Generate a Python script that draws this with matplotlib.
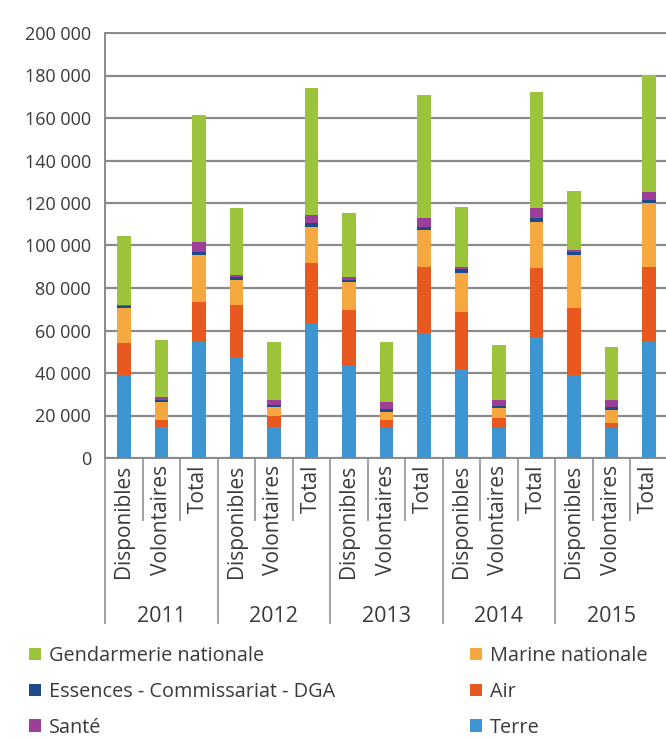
import numpy as np
import matplotlib
matplotlib.use("Agg")
import matplotlib.pyplot as plt
from matplotlib.patches import Patch
from matplotlib.ticker import FuncFormatter
import matplotlib.transforms as mtransforms

plt.rcParams["font.family"] = ["Open Sans", "DejaVu Sans"]

years = ["2011", "2012", "2013", "2014", "2015"]
kinds = ["Disponibles", "Volontaires", "Total"]

# one value per bar: 2011 Disp, Vol, Total, 2012 Disp, ...
terre = [39000, 14600, 54600, 47000, 14600, 63500, 43800, 14000, 58800,
         41400, 14000, 57000, 39000, 14000, 54600]
air = [15000, 3400, 18800, 25000, 5400, 28200, 25800, 4000, 31200,
       27300, 4800, 32400, 31600, 2500, 35400]
marine = [16500, 8500, 22100, 11800, 4000, 17000, 13200, 3600, 17300,
          18300, 4700, 21600, 24900, 6100, 30000]
essences = [1000, 700, 1500, 1200, 800, 1700, 1200, 1500, 1600,
            1800, 1200, 1800, 1400, 1500, 1500]
sante = [500, 1300, 4600, 1000, 2500, 4000, 1000, 3300, 4000,
         1200, 2600, 4800, 1000, 3200, 3700]
gendarmerie = [32500, 27000, 59800, 31600, 27300, 59600, 30300, 28200, 57900,
               28000, 25900, 54600, 27700, 24900, 55000]

series = [
    ("Terre", terre, "#3d96d2"),
    ("Air", air, "#e8581f"),
    ("Marine nationale", marine, "#f5a83f"),
    ("Essences - Commissariat - DGA", essences, "#1d4a8a"),
    ("Santé", sante, "#9b3f98"),
    ("Gendarmerie nationale", gendarmerie, "#9cc43a"),
]

txt = "#3a3a3a"
grid_c = "#8a8a8a"

fig = plt.figure(figsize=(6.66, 7.4), dpi=100)
ax = fig.add_axes([105 / 666, 282 / 740, 562.5 / 666, 425 / 740])

x = np.arange(len(terre))
bottom = np.zeros(len(x))
for name, vals, col in series:
    ax.bar(x, vals, width=0.36, bottom=bottom, color=col, zorder=3)
    bottom += np.array(vals)

ax.set_xlim(-0.5, len(x) - 0.5)
ax.set_ylim(0, 200000)
ax.set_yticks(np.arange(0, 200001, 20000))
ax.yaxis.set_major_formatter(FuncFormatter(lambda v, p: f"{int(v):,}".replace(",", " ")))
ax.tick_params(axis="y", length=0, pad=10, labelsize=13, labelcolor=txt)
ax.set_xticks([])
ax.grid(axis="y", color=grid_c, linewidth=1.6, zorder=0)
for s in ["top", "left", "bottom"]:
    ax.spines[s].set_color(grid_c)
    ax.spines[s].set_linewidth(1.4)
ax.spines["right"].set_visible(False)

# multi-level category axis
trans = mtransforms.blended_transform_factory(ax.transData, ax.transAxes)
for i in range(len(x)):
    ax.annotate(kinds[i % 3], xy=(i, 0), xycoords=trans, xytext=(0, -5),
                textcoords="offset points", rotation=90, ha="center", va="top",
                fontsize=15, color=txt, annotation_clip=False)
    edge = i + 0.5
    if i % 3 == 2:
        ax.plot([edge, edge], [0, -0.388], transform=trans, color="#a0a0a0",
                lw=1.4, clip_on=False)
    else:
        ax.plot([edge, edge], [0, -0.146], transform=trans, color="#a0a0a0",
                lw=1.4, clip_on=False)
ax.plot([-0.5, -0.5], [0, -0.388], transform=trans, color="#a0a0a0",
        lw=1.4, clip_on=False)
for j, yr in enumerate(years):
    ax.text(3 * j + 1, -0.372, yr, transform=trans, ha="center", va="center",
            fontsize=15.5, color=txt)

# legend in two columns
by_name = {n: c for n, v, c in series}
left_names = ["Gendarmerie nationale", "Essences - Commissariat - DGA", "Santé"]
right_names = ["Marine nationale", "Air", "Terre"]
for names_, xpos in [(left_names, 25 / 666), (right_names, 466 / 666)]:
    handles = [Patch(facecolor=by_name[n], label=n) for n in names_]
    fig.legend(handles=handles, loc="upper left", bbox_to_anchor=(xpos, 1 - 642 / 740),
               frameon=False, fontsize=14.3, handlelength=0.6, handleheight=0.6,
               handletextpad=0.4, labelspacing=0.8, labelcolor=txt,
               borderaxespad=0, borderpad=0.2)

fig.savefig("out.png", dpi=100)
